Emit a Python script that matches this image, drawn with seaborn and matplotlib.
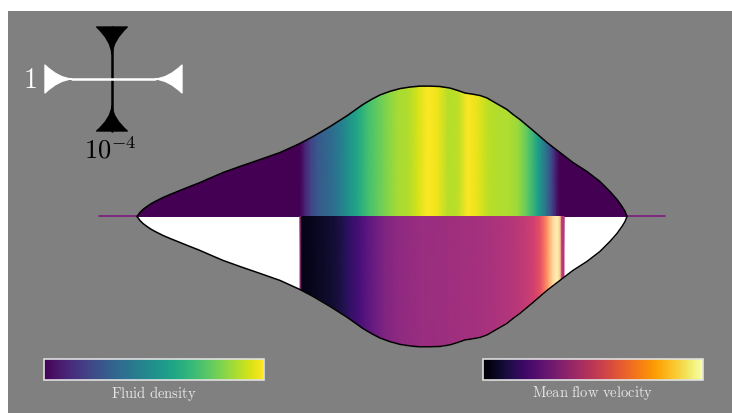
import numpy as np
import matplotlib
matplotlib.use('Agg')
import matplotlib.pyplot as plt
import seaborn as sns
from matplotlib.cm import ScalarMappable

# Profile outline: position along the channel and normalized half width
pos = [0.0, 0.3, 0.6, 1.0, 1.4, 1.8, 2.6, 3.3, 4.3, 5.3, 6.2, 7.0, 8.6, 10.3,
       12.3, 14.3, 16.3, 17.6, 19.3, 21.0, 22.6, 23.5, 24.3, 25.3, 26.3, 27.3,
       28.3, 29.3, 30.3, 31.3, 32.1, 32.8, 33.5, 34.3, 35.0, 35.6, 36.3, 37.0,
       37.6, 38.3, 39.6, 41.0, 42.3, 43.6, 45.0, 46.3, 47.3, 48.0, 48.5, 48.8,
       49.0]
half = [0.0, 0.031, 0.054, 0.077, 0.098, 0.115, 0.146, 0.169, 0.200, 0.231,
        0.258, 0.285, 0.338, 0.385, 0.438, 0.492, 0.562, 0.615, 0.692, 0.775,
        0.862, 0.903, 0.935, 0.963, 0.984, 0.996, 1.003, 1.003, 1.0, 0.988,
        0.969, 0.950, 0.942, 0.931, 0.912, 0.885, 0.854, 0.823, 0.785, 0.746,
        0.662, 0.569, 0.492, 0.415, 0.346, 0.269, 0.192, 0.131, 0.077, 0.040,
        0.0]

# Fluid density (viridis, 0..1) along the channel
dens_pos = [0.0, 16.3, 16.8, 17.4, 18.1, 19.1, 20.1, 21.1, 22.1, 23.1, 24.1,
            25.1, 26.1, 27.1, 28.1, 29.1, 30.1, 31.1, 32.1, 33.1, 34.1, 35.1,
            36.1, 37.1, 38.1, 39.1, 40.1, 40.9, 41.5, 42.0, 42.3, 49.0]
dens = [0.0, 0.0, 0.10, 0.20, 0.28, 0.33, 0.40, 0.50, 0.60, 0.70, 0.76,
        0.82, 0.87, 0.88, 0.94, 1.0, 0.97, 0.89, 0.90, 1.0, 0.96, 0.90,
        0.88, 0.88, 0.85, 0.74, 0.56, 0.38, 0.20, 0.05, 0.0, 0.0]

# Mean flow velocity (0..1) where it is defined
vel_pos = [16.3, 16.5, 17.3, 18.1, 18.9, 19.7, 20.5, 21.3, 22.1, 22.9, 23.8,
           24.8, 26.3, 28.3, 30.3, 32.3, 34.3, 36.3, 37.8, 38.8, 39.6, 40.3,
           40.8, 41.2, 41.6, 42.0, 42.3, 42.5, 42.7]
vel = [0.45, 0.04, 0.05, 0.07, 0.08, 0.10, 0.13, 0.18, 0.22, 0.27, 0.32,
       0.37, 0.41, 0.43, 0.44, 0.45, 0.46, 0.48, 0.50, 0.53, 0.56, 0.62,
       0.72, 0.82, 0.92, 0.97, 0.90, 0.50, 0.50]

baseline = [-3.8, 52.8]

sns.set_theme(style='white')
plt.rcParams['mathtext.fontset'] = 'cm'
plt.rcParams['font.family'] = ['DejaVu Serif']

fig = plt.figure(figsize=(7.32, 4.14), dpi=100, facecolor='white')
ax = fig.add_axes([0.01093, 0, 0.98907, 0.97101])
ax.set_facecolor('#808080')

half = np.array(half)
viridis = plt.get_cmap('viridis')

# baseline under the profile
sns.lineplot(x=baseline, y=[0, 0], color='#7d2482', lw=1.3, ax=ax, zorder=1)

# upper half: density
top = ax.fill_between(pos, 0, half, color=viridis(0.0), lw=0, zorder=2)
X = np.vstack([dens_pos, dens_pos])
Y = np.vstack([np.zeros(len(dens_pos)), np.full(len(dens_pos), 1.1)])
C = np.vstack([dens, dens])
m1 = ax.pcolormesh(X, Y, C, cmap='viridis', vmin=0, vmax=1, shading='gouraud', zorder=3)
m1.set_clip_path(top.get_paths()[0], ax.transData)

# lower half: velocity
bot = ax.fill_between(pos, -half, 0, color='white', lw=0, zorder=2)
X2 = np.vstack([vel_pos, vel_pos])
Y2 = np.vstack([np.zeros(len(vel_pos)), np.full(len(vel_pos), -1.1)])
C2 = np.vstack([vel, vel])
m2 = ax.pcolormesh(X2, Y2, C2, cmap='magma', vmin=0, vmax=1, shading='gouraud', zorder=3)
m2.set_clip_path(bot.get_paths()[0], ax.transData)

# outline
sns.lineplot(x=pos, y=half, color='black', lw=1.1, ax=ax, zorder=4)
sns.lineplot(x=pos, y=-half, color='black', lw=1.1, ax=ax, zorder=4)

ax.set_xlim(-12.9, 59.5)
ax.set_ylim(-1.512, 1.581)
ax.set_xticks([])
ax.set_yticks([])
ax.set_xlabel('')
ax.set_ylabel('')
for s in ax.spines.values():
    s.set_visible(False)

# scale indicator
ax.plot([0.1436, 0.1436], [0.7015, 0.9602], transform=ax.transAxes, color='black', lw=1.8, zorder=5)
for a, b in [((0.1436, 0.9602), (0.1436, 0.8930)), ((0.1436, 0.7015), (0.1436, 0.7637))]:
    ax.annotate('', xy=b, xytext=a, xycoords='axes fraction', textcoords='axes fraction',
                arrowprops=dict(arrowstyle='wedge,tail_width=1.1,shrink_factor=0.28',
                                color='black', shrinkA=0, shrinkB=0, mutation_scale=20), zorder=5)
ax.plot([0.0884, 0.2030], [0.8308, 0.8308], transform=ax.transAxes, color='white', lw=1.8, zorder=6)
for a, b in [((0.0511, 0.8308), (0.0884, 0.8308)), ((0.2403, 0.8308), (0.2030, 0.8308))]:
    ax.annotate('', xy=b, xytext=a, xycoords='axes fraction', textcoords='axes fraction',
                arrowprops=dict(arrowstyle='wedge,tail_width=1.0,shrink_factor=0.28',
                                color='white', shrinkA=0, shrinkB=0, mutation_scale=20), zorder=6)
ax.text(0.0304, 0.8308, r'$1$', color='white', fontsize=20, ha='center', va='center',
        transform=ax.transAxes)
ax.text(0.1409, 0.6567, r'$10^{-4}$', color='black', fontsize=19, ha='center', va='center',
        transform=ax.transAxes)

# colorbars
for rect, cmap, label in [([0.0601, 0.0797, 0.3005, 0.0507], 'viridis', r'$\mathrm{Fluid\ density}$'),
                          ([0.6598, 0.0797, 0.3005, 0.0507], 'inferno', r'$\mathrm{Mean\ flow\ velocity}$')]:
    cax = fig.add_axes(rect)
    cb = fig.colorbar(ScalarMappable(cmap=cmap), cax=cax, orientation='horizontal')
    cb.set_ticks([])
    cb.outline.set_edgecolor('#e0e0e0')
    cb.outline.set_linewidth(1.2)
    cb.set_label(label, color='#e6e6e6', fontsize=10.5, labelpad=2)

fig.savefig('out.png', dpi=100)
